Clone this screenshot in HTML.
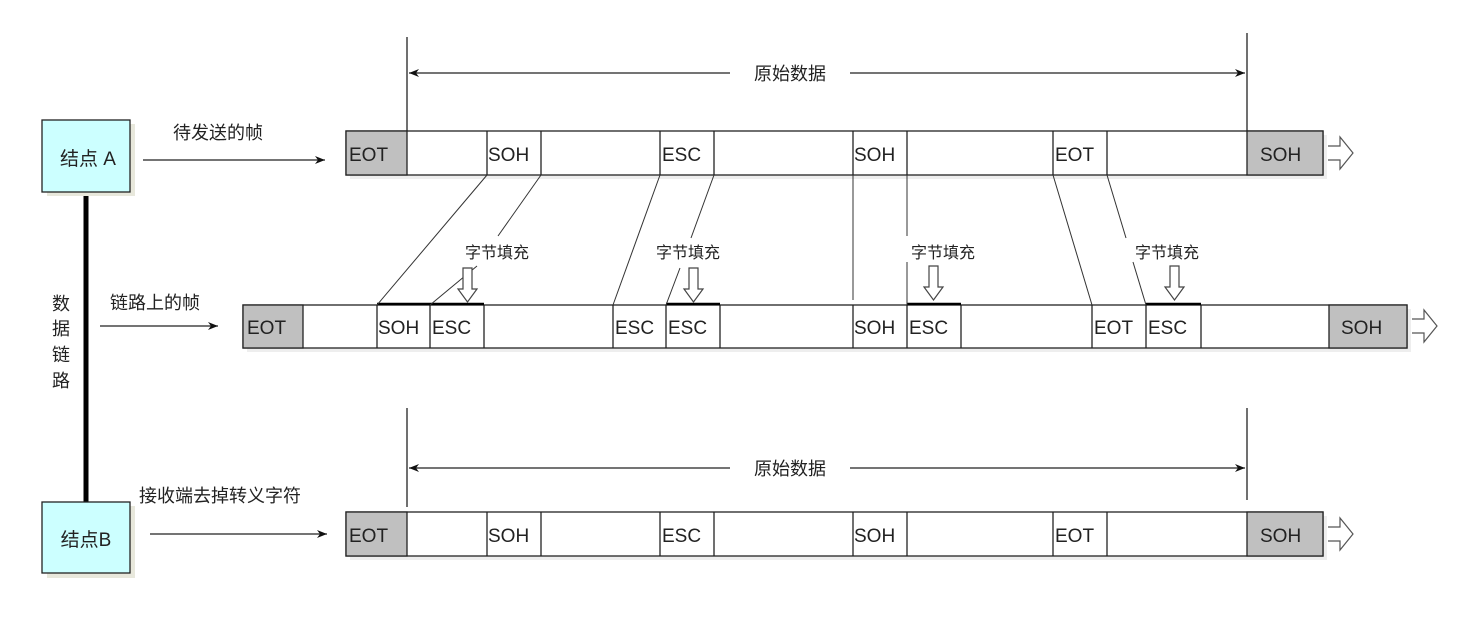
<!DOCTYPE html>
<html><head><meta charset="utf-8"><style>
html,body{margin:0;padding:0;background:#fff;}
svg{display:block;}
text{font-family:"Liberation Sans","Noto Sans CJK SC",sans-serif;fill:#222;}
</style></head><body>
<svg width="1480" height="622" viewBox="0 0 1480 622" xmlns="http://www.w3.org/2000/svg">
<defs>
<marker id="ah" markerWidth="10" markerHeight="8" refX="10" refY="4" orient="auto" markerUnits="userSpaceOnUse"><path d="M0,0 L10,4 L0,8 L3,4 Z" fill="#111"/></marker>
<marker id="ahs" markerWidth="10" markerHeight="8" refX="0" refY="4" orient="auto" markerUnits="userSpaceOnUse"><path d="M10,0 L0,4 L10,8 L7,4 Z" fill="#111"/></marker>
</defs>
<g stroke="#222" fill="none" stroke-width="1.3">
<line x1="407" y1="37" x2="407" y2="131"/><line x1="1247" y1="33" x2="1247" y2="131"/>
<line x1="409" y1="73" x2="730" y2="73" marker-start="url(#ahs)"/>
<line x1="850" y1="73" x2="1245" y2="73" marker-end="url(#ah)"/>
<line x1="407" y1="408" x2="407" y2="507"/><line x1="1247" y1="408" x2="1247" y2="500"/>
<line x1="409" y1="468" x2="730" y2="468" marker-start="url(#ahs)"/>
<line x1="850" y1="468" x2="1245" y2="468" marker-end="url(#ah)"/>
<line x1="143" y1="160" x2="325" y2="160" marker-end="url(#ah)"/>
<line x1="100" y1="326" x2="218" y2="326" marker-end="url(#ah)"/>
<line x1="150" y1="534" x2="327" y2="534" marker-end="url(#ah)"/>
</g>
<line x1="86" y1="192" x2="86" y2="502" stroke="#000" stroke-width="5"/>
<rect x="47" y="124" width="88" height="72" fill="#e8e8dc"/>
<rect x="42" y="120" width="88" height="72" fill="#ccffff" stroke="#222" stroke-width="1.3"/>
<text x="88" y="165" font-size="19" text-anchor="middle">结点 A</text>
<rect x="47" y="506" width="88" height="72" fill="#e8e8dc"/>
<rect x="42" y="502" width="88" height="71" fill="#ccffff" stroke="#222" stroke-width="1.3"/>
<text x="86" y="546" font-size="19" text-anchor="middle">结点B</text>
<g font-size="18">
<text x="173" y="139">待发送的帧</text>
<text x="110" y="309">链路上的帧</text>
<text x="139" y="502">接收端去掉转义字符</text>
<text x="790" y="80" text-anchor="middle">原始数据</text>
<text x="790" y="475" text-anchor="middle">原始数据</text>
<text x="52" y="310">数</text><text x="52" y="335">据</text><text x="52" y="361">链</text><text x="52" y="387">路</text>
</g>
<g>
<rect x="350" y="135" width="977" height="44" fill="#eee"/>
<rect x="346" y="131" width="977" height="44" fill="#fff" stroke="#222" stroke-width="1.3"/>
<rect x="346" y="131" width="61" height="44" fill="#c0c0c0" stroke="#222" stroke-width="1.3"/>
<rect x="1247" y="131" width="76" height="44" fill="#c0c0c0" stroke="#222" stroke-width="1.3"/>
<g stroke="#222" stroke-width="1.3"><line x1="487" y1="131" x2="487" y2="175"/><line x1="541" y1="131" x2="541" y2="175"/><line x1="660" y1="131" x2="660" y2="175"/><line x1="714" y1="131" x2="714" y2="175"/><line x1="853" y1="131" x2="853" y2="175"/><line x1="907" y1="131" x2="907" y2="175"/><line x1="1053" y1="131" x2="1053" y2="175"/><line x1="1107" y1="131" x2="1107" y2="175"/></g>
<g font-size="19"><text x="349" y="161">EOT</text><text x="488" y="161">SOH</text><text x="662" y="161">ESC</text><text x="854" y="161">SOH</text><text x="1055" y="161">EOT</text><text x="1260" y="161">SOH</text></g>
<path d="M1328,146 h12 v-9 l13,16 l-13,16 v-9 h-12" fill="#fff" stroke="#555" stroke-width="1.2"/>
</g>
<g transform="translate(0,381)">
<rect x="350" y="135" width="977" height="44" fill="#eee"/>
<rect x="346" y="131" width="977" height="44" fill="#fff" stroke="#222" stroke-width="1.3"/>
<rect x="346" y="131" width="61" height="44" fill="#c0c0c0" stroke="#222" stroke-width="1.3"/>
<rect x="1247" y="131" width="76" height="44" fill="#c0c0c0" stroke="#222" stroke-width="1.3"/>
<g stroke="#222" stroke-width="1.3"><line x1="487" y1="131" x2="487" y2="175"/><line x1="541" y1="131" x2="541" y2="175"/><line x1="660" y1="131" x2="660" y2="175"/><line x1="714" y1="131" x2="714" y2="175"/><line x1="853" y1="131" x2="853" y2="175"/><line x1="907" y1="131" x2="907" y2="175"/><line x1="1053" y1="131" x2="1053" y2="175"/><line x1="1107" y1="131" x2="1107" y2="175"/></g>
<g font-size="19"><text x="349" y="161">EOT</text><text x="488" y="161">SOH</text><text x="662" y="161">ESC</text><text x="854" y="161">SOH</text><text x="1055" y="161">EOT</text><text x="1260" y="161">SOH</text></g>
<path d="M1328,146 h12 v-9 l13,16 l-13,16 v-9 h-12" fill="#fff" stroke="#555" stroke-width="1.2"/>
</g>
<rect x="247" y="309" width="1164" height="43" fill="#eee"/>
<rect x="243" y="305" width="1164" height="43" fill="#fff" stroke="#222" stroke-width="1.3"/>
<rect x="243" y="305" width="60" height="43" fill="#c0c0c0" stroke="#222" stroke-width="1.3"/>
<rect x="1329" y="305" width="78" height="43" fill="#c0c0c0" stroke="#222" stroke-width="1.3"/>
<g stroke="#222" stroke-width="1.3">
<line x1="377" y1="305" x2="377" y2="348"/><line x1="430" y1="305" x2="430" y2="348"/><line x1="484" y1="305" x2="484" y2="348"/>
<line x1="613" y1="305" x2="613" y2="348"/><line x1="666" y1="305" x2="666" y2="348"/><line x1="720" y1="305" x2="720" y2="348"/>
<line x1="853" y1="305" x2="853" y2="348"/><line x1="907" y1="305" x2="907" y2="348"/><line x1="961" y1="305" x2="961" y2="348"/>
<line x1="1092" y1="305" x2="1092" y2="348"/><line x1="1146" y1="305" x2="1146" y2="348"/><line x1="1201" y1="305" x2="1201" y2="348"/>
</g>
<g stroke="#000" stroke-width="2.5">
<line x1="377" y1="304" x2="484" y2="304"/><line x1="666" y1="304" x2="720" y2="304"/><line x1="907" y1="304" x2="961" y2="304"/><line x1="1146" y1="304" x2="1201" y2="304"/>
</g>
<g font-size="19"><text x="247" y="334">EOT</text><text x="378" y="334">SOH</text><text x="432" y="334">ESC</text><text x="615" y="334">ESC</text><text x="668" y="334">ESC</text><text x="854" y="334">SOH</text><text x="909" y="334">ESC</text><text x="1094" y="334">EOT</text><text x="1148" y="334">ESC</text><text x="1341" y="334">SOH</text></g>
<path d="M1412,319 h12 v-9 l13,16 l-13,16 v-9 h-12" fill="#fff" stroke="#555" stroke-width="1.2"/>
<g stroke="#333" stroke-width="1">
<line x1="487" y1="175" x2="377" y2="305"/>
<line x1="541" y1="175" x2="498" y2="236"/><line x1="477" y1="266" x2="430" y2="305"/>
<line x1="660" y1="175" x2="613" y2="305"/>
<line x1="714" y1="175" x2="691" y2="238"/><line x1="680" y1="268" x2="666" y2="305"/>
<line x1="853" y1="175" x2="853" y2="300"/>
<line x1="907" y1="175" x2="907" y2="236"/><line x1="907" y1="262" x2="907" y2="305"/>
<line x1="1053" y1="175" x2="1092" y2="305"/>
<line x1="1107" y1="175" x2="1126" y2="238"/><line x1="1133" y1="262" x2="1146" y2="305"/>
</g>
<g font-size="16">
<text x="497" y="258" text-anchor="middle">字节填充</text>
<text x="688" y="258" text-anchor="middle">字节填充</text>
<text x="943" y="258" text-anchor="middle">字节填充</text>
<text x="1167" y="258" text-anchor="middle">字节填充</text>
</g>
<g fill="#fff" stroke="#444" stroke-width="1.2">
<path d="M463,268 h9 v21 h5 l-9.5,13 l-9.5,-13 h5 z"/>
<path d="M689,268 h9 v21 h5 l-9.5,13 l-9.5,-13 h5 z"/>
<path d="M929,266 h9 v21 h5 l-9.5,13 l-9.5,-13 h5 z"/>
<path d="M1170,266 h9 v21 h5 l-9.5,13 l-9.5,-13 h5 z"/>
</g>
</svg>
</body></html>
